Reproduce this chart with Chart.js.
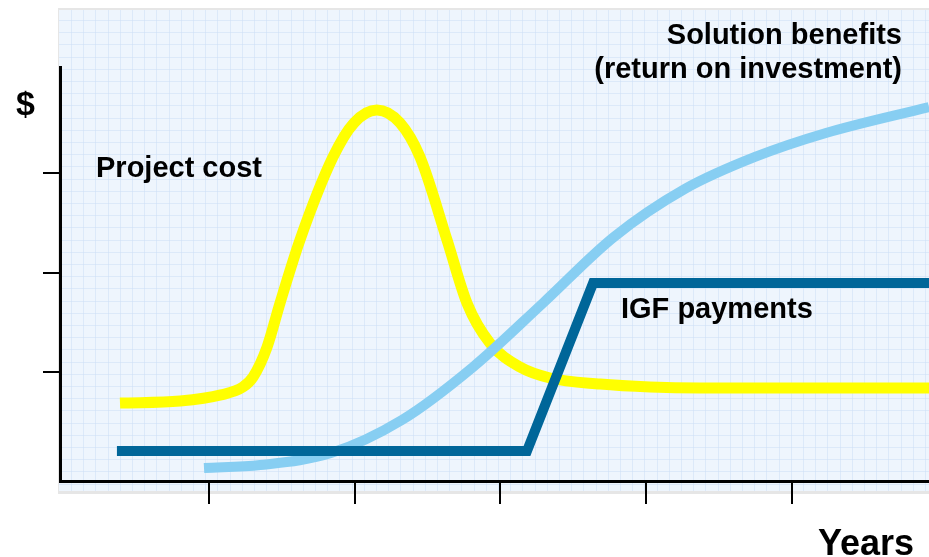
<!DOCTYPE html>
<html>
<head>
<meta charset="utf-8">
<script src="https://cdn.jsdelivr.net/npm/chart.js@4"></script>
<style>
  html, body { margin: 0; padding: 0; background: #ffffff; }
  #wrap { width: 929px; height: 557px; }
</style>
</head>
<body>
<div id="wrap"><canvas id="roiChart"></canvas></div>
<script>
// Dados (x em anos, y em unidades de marca do eixo $)
const costX = [0.387, 0.80, 1.08, 1.231, 1.301, 1.397, 1.486, 1.623, 1.850, 1.994, 2.151, 2.310, 2.447, 2.633, 2.770, 2.928, 3.134, 3.340, 3.684, 4.027, 4.370, 5.943];
const costY = [0.688, 0.709, 0.77, 0.849, 0.950, 1.251, 1.693, 2.327, 3.161, 3.503, 3.633, 3.503, 3.161, 2.327, 1.693, 1.291, 1.050, 0.940, 0.879, 0.849, 0.839, 0.839];

const benefitX = [0.964, 1.35, 1.836, 2.323, 2.811, 3.292, 3.779, 4.267, 4.748, 5.235, 5.943];
const benefitY = [0.035, 0.065, 0.186, 0.518, 1.050, 1.693, 2.357, 2.840, 3.161, 3.402, 3.663];

const igfX = [0.366, 3.182, 3.636, 5.943];
const igfY = [0.206, 0.206, 1.894, 1.894];

const xTicks = [1, 2, 3, 4, 5];
const yTicks = [1, 2, 3];

const toPoints = (xs, ys) => xs.map((x, i) => ({ x: x, y: ys[i] }));

// Fundo azul claro com grade fina, textos e rótulos
const decorPlugin = {
    id: 'decor',
    beforeDraw(chart) {
        const ctx = chart.ctx;
        const a = chart.chartArea;
        const left = a.left - 1, top = a.top - 57, right = a.right, bottom = a.bottom + 11;
        ctx.save();
        ctx.fillStyle = '#e6e6e6';
        ctx.fillRect(left - 1, top - 2, right - left + 1, bottom - top + 4);
        ctx.fillStyle = '#eef5fd';
        ctx.fillRect(left, top, right - left, bottom - top - 1);
        ctx.strokeStyle = 'rgba(205, 222, 245, 0.55)';
        ctx.lineWidth = 1;
        ctx.beginPath();
        for (let x = left + 12; x < right; x += 12.2) {
            ctx.moveTo(Math.round(x) + 0.5, top);
            ctx.lineTo(Math.round(x) + 0.5, bottom - 1);
        }
        for (let y = top + 10; y < bottom - 1; y += 12.2) {
            ctx.moveTo(left, Math.round(y) + 0.5);
            ctx.lineTo(right, Math.round(y) + 0.5);
        }
        ctx.stroke();
        ctx.restore();
    },
    afterDraw(chart) {
        const ctx = chart.ctx;
        ctx.save();
        ctx.fillStyle = '#000000';
        ctx.textBaseline = 'alphabetic';
        ctx.font = 'bold 29px "Liberation Sans", Arial, sans-serif';
        ctx.textAlign = 'right';
        ctx.fillText('Solution benefits', 902, 44);
        ctx.fillText('(return on investment)', 902, 78);
        ctx.textAlign = 'left';
        ctx.fillText('Project cost', 96, 177);
        ctx.fillText('IGF payments', 621, 318);
        ctx.font = 'bold 34px "Liberation Sans", Arial, sans-serif';
        ctx.fillText('$', 16, 115);
        ctx.font = 'bold 36px "Liberation Sans", Arial, sans-serif';
        ctx.textAlign = 'right';
        ctx.fillText('Years', 914, 555);
        ctx.restore();
    }
};

document.addEventListener('DOMContentLoaded', function() {
    const ctx = document.getElementById('roiChart').getContext('2d');
    const roiChart = new Chart(ctx, {
        type: 'line',
        data: {
            datasets: [
                {
                    label: 'IGF payments',
                    data: toPoints(igfX, igfY),
                    borderColor: '#006699',
                    borderWidth: 10,
                    tension: 0,
                    borderJoinStyle: 'miter',
                    pointRadius: 0
                },
                {
                    label: 'Solution benefits',
                    data: toPoints(benefitX, benefitY),
                    borderColor: '#87cef2',
                    borderWidth: 10,
                    cubicInterpolationMode: 'monotone',
                    pointRadius: 0
                },
                {
                    label: 'Project cost',
                    data: toPoints(costX, costY),
                    borderColor: '#ffff00',
                    borderWidth: 11,
                    cubicInterpolationMode: 'monotone',
                    pointRadius: 0
                }
            ]
        },
        options: {
            responsive: true,
            maintainAspectRatio: false,
            animation: false,
            layout: {
                padding: { left: 43, top: 67, right: 0, bottom: 53 }
            },
            scales: {
                x: {
                    type: 'linear',
                    min: -0.025,
                    max: 5.943,
                    afterBuildTicks: scale => { scale.ticks = xTicks.map(v => ({ value: v })); },
                    ticks: { display: false },
                    grid: { drawOnChartArea: false, drawTicks: true, tickLength: 23, color: '#000000', lineWidth: 2 },
                    border: { display: true, color: '#000000', width: 3 }
                },
                y: {
                    type: 'linear',
                    min: -0.095,
                    max: 4.065,
                    afterBuildTicks: scale => { scale.ticks = yTicks.map(v => ({ value: v })); },
                    ticks: { display: false },
                    grid: { drawOnChartArea: false, drawTicks: true, tickLength: 17, color: '#000000', lineWidth: 2 },
                    border: { display: true, color: '#000000', width: 3 }
                }
            },
            plugins: {
                legend: { display: false },
                tooltip: { enabled: false }
            }
        },
        plugins: [decorPlugin]
    });
});
</script>
</body>
</html>
